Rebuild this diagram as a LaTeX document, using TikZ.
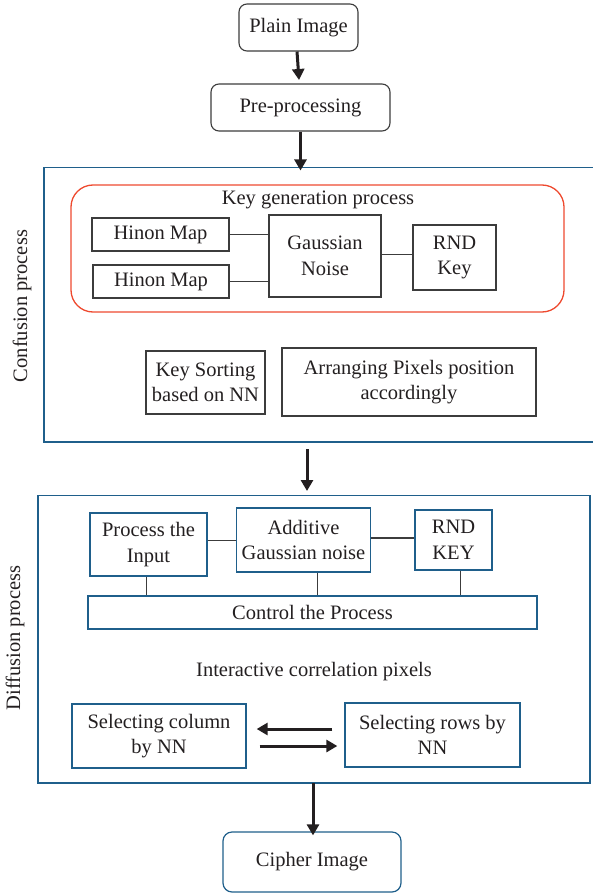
\documentclass[tikz,border=0pt]{standalone}
\usepackage{fontspec}
\setmainfont{Liberation Serif}
\usetikzlibrary{arrows.meta,calc}
\definecolor{bluebox}{HTML}{1F5F8B}
\definecolor{redbox}{HTML}{EE4A2F}
\definecolor{graybox}{HTML}{3C3C3C}
\definecolor{txt}{HTML}{231F20}
\begin{document}
\begin{tikzpicture}[x=1pt,y=-1pt,
  every node/.style={font=\fontsize{20.5}{25.5}\selectfont, text=txt, align=center, inner sep=0pt},
  roundbox/.style={draw=graybox, line width=1.1pt, rounded corners=8pt},
  graysq/.style={draw=graybox, line width=1.2pt},
  bluesq/.style={draw=bluebox, line width=1.3pt},
  outer/.style={draw=bluebox, line width=1.4pt},
  conn/.style={draw=graybox, line width=1pt},
  bigarrow/.style={draw=txt, line width=3pt, -{Triangle[length=11pt,width=12pt]}}
]
\useasboundingbox (0,0) rectangle (592,896);

% top
\node[roundbox, minimum width=119pt, minimum height=47pt] (plain) at (298.5,27.5) {Plain Image};
\node[roundbox, minimum width=179pt, minimum height=47pt] (pre) at (300.5,107.5) {Pre-processing};

% confusion
\draw[outer] (600,167.5) -- (44,167.5) -- (44,442) -- (600,442);
\coordinate (conftop) at (300.5,167.5);
\coordinate (confbot) at (307,449);
\node[rotate=90] (conflabel) at (22,306) {Confusion process};
\draw[draw=redbox, line width=1.3pt, rounded corners=22pt] (71,185) rectangle (564,312);
\node (keygen) at (318,200) {Key generation process};
\node[graysq, minimum width=137pt, minimum height=33pt] (hinon1) at (160.5,234.5) {Hinon Map};
\node[graysq, minimum width=136pt, minimum height=33pt] (hinon2) at (161,281.5) {Hinon Map};
\node[graysq, minimum width=112pt, minimum height=82pt] (gauss) at (325,256) {Gaussian\\Noise};
\node[graysq, minimum width=83pt, minimum height=65pt] (rndk) at (454.5,257.5) {RND\\Key};
\node[graysq, minimum width=119pt, minimum height=63pt] (keysort) at (205.5,382.5) {Key Sorting\\based on NN};
\node[graysq, minimum width=254pt, minimum height=68pt] (arrange) at (409,382) {Arranging Pixels position\\accordingly};
\draw[conn] (hinon1.east) -- (hinon1.east -| gauss.west);
\draw[conn] (hinon2.east) -- (hinon2.east -| gauss.west);
\draw[conn] ([yshift=2pt]gauss.east) -- ([yshift=2pt]gauss.east -| rndk.west);

% diffusion
\draw[outer] (38,495.5) rectangle (590,783);
\coordinate (difftop) at (307,491);
\coordinate (diffbot) at (313,783);
\node[rotate=90] (difflabel) at (15,638) {Diffusion process};
\node[bluesq, minimum width=117pt, minimum height=63pt] (procin) at (148.5,544.5) {Process the\\Input};
\node[bluesq, minimum width=134pt, minimum height=64pt] (addg) at (303.5,540) {Additive\\Gaussian noise};
\node[bluesq, minimum width=77pt, minimum height=60pt] (rndkey) at (453.5,540) {RND\\KEY};
\node[bluesq, minimum width=449pt, minimum height=33pt] (control) at (312.5,612.5) {Control the Process};
\draw[conn] (addg.west -| procin.east) -- (addg.west);
\draw[conn, line width=1.5pt] ([yshift=2pt]addg.east) -- ([yshift=2pt]addg.east -| rndkey.west);
\draw[conn] ([xshift=-2.5pt]procin.south) -- ([xshift=-2.5pt]procin.south |- control.north);
\draw[conn] ([xshift=13.5pt]addg.south) -- ([xshift=13.5pt]addg.south |- control.north);
\draw[conn] ([xshift=7pt]rndkey.south) -- ([xshift=7pt]rndkey.south |- control.north);
\node (inter) at (314,672) {Interactive correlation pixels};
\node[bluesq, minimum width=174pt, minimum height=64pt] (selcol) at (159,736) {Selecting column\\by NN};
\node[bluesq, minimum width=175pt, minimum height=64pt] (selrow) at (432.5,735) {Selecting rows by\\NN};
\draw[bigarrow] ($(selrow.west)+(-12,-6)$) -- ($(selcol.east)+(10,-7)$);
\draw[bigarrow] ($(selcol.east)+(13,10)$) -- ($(selrow.west)+(-7,11)$);

% bottom
\node[draw=bluebox, line width=1.2pt, rounded corners=9pt, minimum width=178pt, minimum height=60pt] (cipher) at (312,862) {Cipher Image};

% arrows
\draw[bigarrow] ([xshift=-1.5pt]plain.south) -- ([xshift=-1.5pt]pre.north |- 0,80);
\draw[bigarrow] (pre.south) -- ([yshift=-3pt]conftop);
\draw[bigarrow] (confbot) -- (difftop);
\draw[bigarrow] (diffbot) -- ([xshift=1pt,yshift=-4pt]cipher.north);
\end{tikzpicture}
\end{document}
